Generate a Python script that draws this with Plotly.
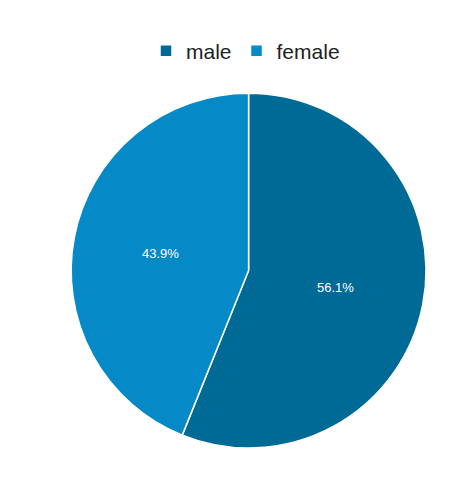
import plotly.graph_objects as go

labels = ["male", "female"]
values = [56.1, 43.9]
colors = ["#006a96", "#0589c7"]

fig = go.Figure(go.Pie(
    labels=labels, values=values, sort=False, direction="clockwise", rotation=0,
    domain=dict(x=[0.133, 0.88], y=[0.083, 0.823]),
    marker=dict(colors=colors, line=dict(color="white", width=1.5)),
    textinfo="percent", texttemplate="%{percent:.1%}",
    textposition="inside", insidetextorientation="horizontal",
    textfont=dict(color="white", size=13, family="Liberation Sans"),
))
fig.update_layout(
    width=475, height=480, paper_bgcolor="white",
    margin=dict(l=0, r=0, t=0, b=0),
    font=dict(family="Liberation Sans"),
    legend=dict(orientation="h", x=0.5, xanchor="center", y=0.91, yanchor="middle",
                font=dict(size=21, color="#222")),
)
fig.write_html("out.html")
